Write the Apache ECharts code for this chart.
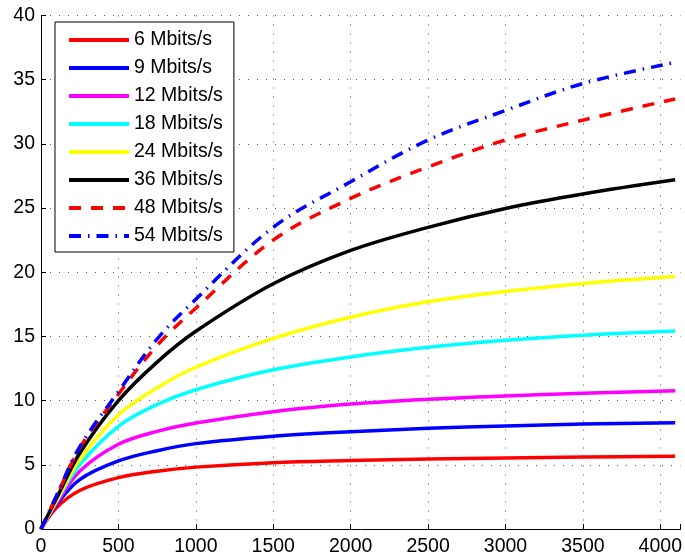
<!DOCTYPE html>
<html>
<head>
<meta charset="utf-8">
<script src="https://cdn.jsdelivr.net/npm/echarts@6/dist/echarts.min.js"></script>
<style>
html,body{margin:0;padding:0;background:#fff;}
#chart{width:685px;height:558px;}
</style>
</head>
<body>
<div id="chart"></div>
<script>
// x positions (samples)
var xValues = [0, 100, 250, 500, 750, 1000, 1500, 2000, 2500, 3000, 3500, 4096];
// series values
var rate6  = [0, 1.65, 3.0, 4.0, 4.5, 4.82, 5.17, 5.33, 5.45, 5.54, 5.6, 5.66];
var rate9  = [0, 1.9, 3.85, 5.3, 6.1, 6.65, 7.23, 7.58, 7.84, 8.02, 8.17, 8.28];
var rate12 = [0, 2.0, 4.5, 6.6, 7.6, 8.25, 9.14, 9.73, 10.1, 10.36, 10.57, 10.77];
var rate18 = [0, 2.15, 5.0, 8.0, 9.7, 10.85, 12.4, 13.4, 14.15, 14.7, 15.1, 15.42];
var rate24 = [0, 2.2, 5.4, 8.9, 11.0, 12.6, 14.85, 16.5, 17.7, 18.5, 19.13, 19.67];
var rate36 = [0, 2.4, 5.9, 10.0, 13.0, 15.4, 19.1, 21.7, 23.5, 24.97, 26.1, 27.2];
var rate48 = [0, 2.55, 6.3, 10.5, 14.3, 17.2, 22.5, 25.75, 28.2, 30.3, 31.85, 33.5];
var rate54 = [0, 2.6, 6.4, 10.7, 14.8, 17.9, 23.5, 27.05, 30.3, 32.6, 34.7, 36.35];
var seriesNames = ['6 Mbits/s', '9 Mbits/s', '12 Mbits/s', '18 Mbits/s', '24 Mbits/s', '36 Mbits/s', '48 Mbits/s', '54 Mbits/s'];
var xTicks = [0, 500, 1000, 1500, 2000, 2500, 3000, 3500, 4000];
var yTicks = [0, 5, 10, 15, 20, 25, 30, 35, 40];

var allValues = [rate6, rate9, rate12, rate18, rate24, rate36, rate48, rate54];
var colors = ['#ff0000', '#0000ff', '#ff00ff', '#00ffff', '#ffff00', '#000000', '#ff0000', '#0000ff'];
var dashes = ['solid', 'solid', 'solid', 'solid', 'solid', 'solid', [12, 10], [12, 7, 1.5, 7]];

var FONT = 'Liberation Sans';

var series = allValues.map(function (vals, k) {
  return {
    name: seriesNames[k],
    type: 'line',
    symbol: 'none',
    showSymbol: false,
    smooth: 0.35,
    data: xValues.map(function (x, i) { return [x, vals[i]]; }),
    lineStyle: { color: colors[k], width: 3.5, type: dashes[k], cap: 'butt' },
    itemStyle: { color: colors[k] },
    z: 2 + k
  };
});

var chart = echarts.init(document.getElementById('chart'), null, { renderer: 'canvas' });
chart.setOption({
  animation: false,
  backgroundColor: '#ffffff',
  grid: { left: 41, right: 3, top: 15.5, bottom: 29, containLabel: false },
  legend: {
    left: 55, top: 22,
    orient: 'vertical',
    data: seriesNames,
    itemWidth: 60, itemHeight: 14, itemGap: 8,
    padding: [8, 11, 6, 12],
    borderColor: '#000', borderWidth: 1, backgroundColor: '#fff',
    textStyle: { fontFamily: FONT, fontSize: 19.5, color: '#000' },
    lineStyle: { width: 4 },
    itemStyle: { opacity: 0 },
    selectedMode: false
  },
  xAxis: {
    type: 'value', min: 0, max: 4130, interval: 500,
    axisLine: { show: true, onZero: false, lineStyle: { color: '#000', width: 1 } },
    axisTick: { show: true, inside: true, length: 5, lineStyle: { color: '#000' } },
    axisLabel: {
      fontFamily: FONT, fontSize: 19.5, color: '#000', margin: 8,
      formatter: function (v) { return xTicks.indexOf(v) >= 0 ? String(v) : ''; }
    },
    splitLine: { show: true, showMaxLine: false, lineStyle: { color: '#555', type: [1, 8], width: 1 } }
  },
  yAxis: {
    type: 'value', min: 0, max: 40, interval: 5,
    axisLine: { show: true, onZero: false, lineStyle: { color: '#000', width: 1 } },
    axisTick: { show: true, inside: true, length: 5, lineStyle: { color: '#000' } },
    axisLabel: {
      fontFamily: FONT, fontSize: 19.5, color: '#000', margin: 6,
      formatter: function (v) { return yTicks.indexOf(v) >= 0 ? String(v) : ''; }
    },
    splitLine: { show: true, lineStyle: { color: '#555', type: [1, 8], width: 1 } }
  },
  series: series
});
</script>
</body>
</html>
